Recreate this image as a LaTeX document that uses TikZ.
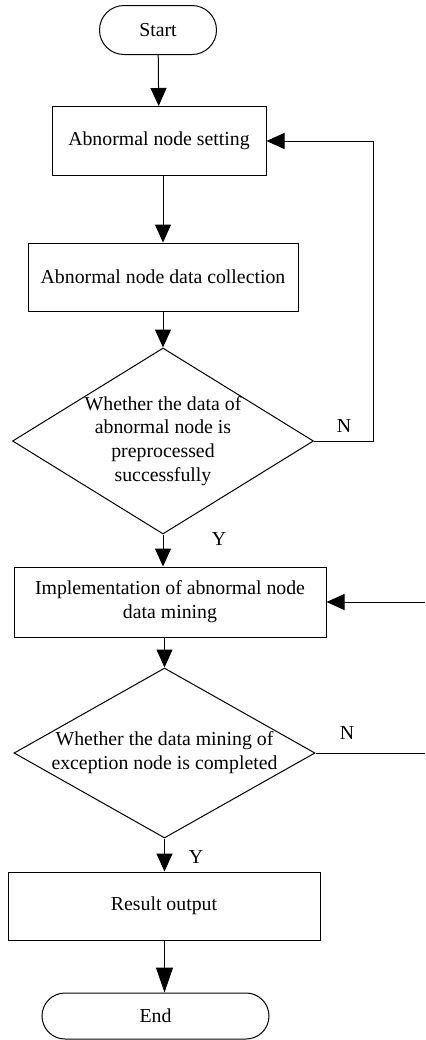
\documentclass[tikz,border=0pt]{standalone}
\usepackage{fontspec}
\setmainfont{Liberation Serif}
\usetikzlibrary{shapes.geometric,shapes.misc,arrows.meta}

\tikzset{
  line/.style={line width=0.5pt},
  arr/.style={line, -{Triangle[length=9pt,width=8pt]}},
  term/.style={line, draw, rounded rectangle, inner sep=0pt},
  proc/.style={line, draw, rectangle, align=center, inner sep=0pt},
  dec/.style={line, draw, diamond, inner sep=0pt},
  txt/.style={align=center, inner sep=0pt}
}

\begin{document}
\begin{tikzpicture}[x=0.5pt, y=-0.5pt, font=\fontsize{9.9}{11.9}\selectfont]
    \useasboundingbox (0,0) rectangle (425,1040);
    \node[term, minimum width=58.5pt, minimum height=24.5pt] (start) at (158,30) {Start};
    \node[proc, minimum width=107pt, minimum height=34.5pt] (set) at (159,141) {Abnormal node setting};
    \node[proc, minimum width=135pt, minimum height=34pt] (coll) at (163,277) {Abnormal node data collection};
    \node[dec, minimum width=150.5pt, minimum height=93pt] (dec1) at (163,441) {};
    \node[txt] (dec1t) at (dec1) {Whether the data of\\abnormal node is\\preprocessed\\successfully};
    \node[proc, minimum width=156pt, minimum height=35pt] (impl) at (170,602) {Implementation of abnormal node\\data mining};
    \node[dec, minimum width=150.5pt, minimum height=85pt] (dec2) at (164.5,753) {};
    \node[txt] (dec2t) at (dec2) {Whether the data mining of\\exception node is completed};
    \node[proc, minimum width=156pt, minimum height=34pt] (res) at (164,906) {Result output};
    \node[term, minimum width=113.5pt, minimum height=23pt] (end) at (155.5,1016) {End};
    \coordinate (back) at (425,602);
    \coordinate (out) at (425,753);
    \node (n1) at (344,426) {N};
    \node (y1) at (219,539) {Y};
    \node (n2) at (347,733) {N};
    \node (y2) at (196,857) {Y};

    \draw[arr] (start) -- (set);
    \draw[arr] (set.south -| dec1) -- (coll.north -| dec1);
    \draw[arr] (coll.south -| dec1) -- (dec1.north);
    \draw[arr] (dec1.south) -- (impl.north -| dec1);
    \draw[arr] (dec1.east) -- ++(59,0) |- (set.east);
    \draw[arr] (back) -- (impl.east);
    \draw[arr] (impl.south -| dec2) -- (dec2.north);
    \draw[line] (dec2.east) -- (out);
    \draw[arr] (dec2.south) -- (res.north -| dec2);
    \draw[line, -{Triangle[length=12.5pt,width=8.5pt]}] (res.south -| dec2) -- (end.north -| dec2);
\end{tikzpicture}
\end{document}
